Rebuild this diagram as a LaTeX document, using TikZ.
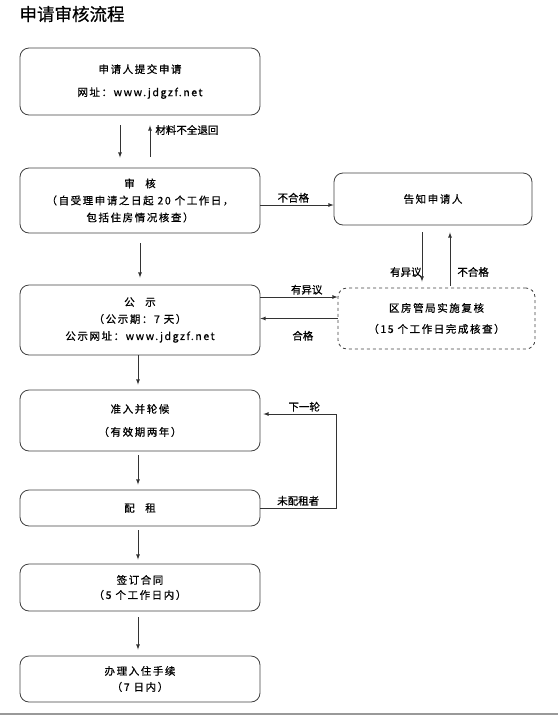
\documentclass[tikz,border=0pt]{standalone}
\usepackage{fontspec}
\setmainfont{Noto Sans CJK SC}[FakeBold=0.6]
\newfontfamily\boxfont{Noto Sans CJK SC}[LetterSpace=15,FakeBold=0.6]
\usetikzlibrary{arrows}

\begin{document}
\begin{tikzpicture}[x=1pt,y=-1pt,font=\fontsize{10.5}{12}\selectfont,
  box/.style={draw=black!75,line width=0.8pt,rounded corners=9pt,minimum width=240pt,inner sep=0pt,align=center,font=\boxfont\fontsize{10.5}{17}\selectfont},
  dbox/.style={box,dashed},
  arr/.style={draw=black!80,line width=0.8pt,-latex},
  lbl/.style={inner sep=2pt}]
\useasboundingbox (0,0) rectangle (558,716);
\node [anchor=west, font=\fontsize{17.5}{18}\selectfont] (title) at (16,14) {申请审核流程};
\node [box, minimum height=67pt] (submit) at (140,81.5) {申请人提交申请\\[6pt]网址：www.jdgzf.net};
\node [box, minimum height=65pt] (review) at (140,200.5) {审\quad 核\\（自受理申请之日起 20 个工作日，\\包括住房情况核查）};
\node [box, minimum width=198pt, minimum height=52pt] (notify) at (433,199) {告知申请人};
\node [box, minimum height=70pt] (publicity) at (140,320) {公\quad 示\\（公示期：7 天）\\公示网址：www.jdgzf.net};
\node [dbox, minimum width=197pt, minimum height=61pt] (recheck) at (436.5,318.5) {区房管局实施复核\\[4pt]（15 个工作日完成核查）};
\node [box, minimum height=61pt] (admit) at (140,420.5) {准入并轮候\\[6pt]（有效期两年）};
\node [box, minimum height=36pt] (allot) at (140,508) {配\quad 租};
\node [box, minimum height=47pt] (contract) at (140,587.5) {签订合同\\[-2pt]（5 个工作日内）};
\node [box, minimum height=46pt] (checkin) at (140,679) {办理入住手续\\[-1pt]（7 日内）};
\coordinate (turn) at (336,508);
\draw [arr, shorten <=10pt, shorten >=10pt] ([xshift=-20pt]submit.south) -- ([xshift=-20pt]review.north);
\draw [arr, shorten <=11pt, shorten >=10pt] ([xshift=10pt]review.north) -- ([xshift=10pt]submit.south)
  node [lbl, right=5pt, inner sep=0pt, pos=0.72] {材料不全退回};
\draw [arr] ([yshift=-4.5pt]review.east) -- ([yshift=-4.5pt]review.east -| notify.west)
  node [lbl, above, pos=0.45] {不合格};
\draw [arr, shorten <=7pt, shorten >=6pt] ([xshift=-11pt]notify.south) -- ([xshift=-11pt]notify.south |- recheck.north)
  node [left, inner sep=0pt, pos=0.75] {有异议};
\draw [arr, shorten <=2pt, shorten >=7pt] ([xshift=13.5pt]recheck.north) -- ([xshift=13.5pt]recheck.north |- notify.south)
  node [right=7pt, inner sep=0pt, pos=0.25] {不合格};
\draw [arr] ([yshift=23pt]publicity.east) -- ([yshift=23pt]publicity.east -| recheck.west)
  node [lbl, above, pos=0.6] {有异议};
\draw [arr] (recheck.west) -- (recheck.west -| publicity.east)
  node [lbl, below=10pt, pos=0.45] {合格};
\draw [arr, shorten <=10pt, shorten >=7pt] (review.south) -- (publicity.north);
\draw [arr, shorten >=5pt] ([xshift=-2pt]publicity.south) -- ([xshift=-2pt]admit.north);
\draw [arr, shorten <=4pt, shorten >=5pt] ([xshift=-2pt]admit.south) -- ([xshift=-2pt]allot.north);
\draw [arr, shorten <=4pt, shorten >=4pt] ([xshift=-2pt]allot.south) -- ([xshift=-2pt]contract.north);
\draw [arr, shorten <=6pt, shorten >=6pt] ([xshift=-2pt]contract.south) -- ([xshift=-2pt]checkin.north);
\draw [arr, shorten >=3pt] (allot.east) -- node [lbl, above, pos=0.5] {未配租者} (turn)
  |- ([yshift=6.5pt]admit.east) node [lbl, above, pos=0.71] {下一轮};
\draw [black!40, line width=1.2pt] (0,714) -- (558,714);
\end{tikzpicture}
\end{document}
